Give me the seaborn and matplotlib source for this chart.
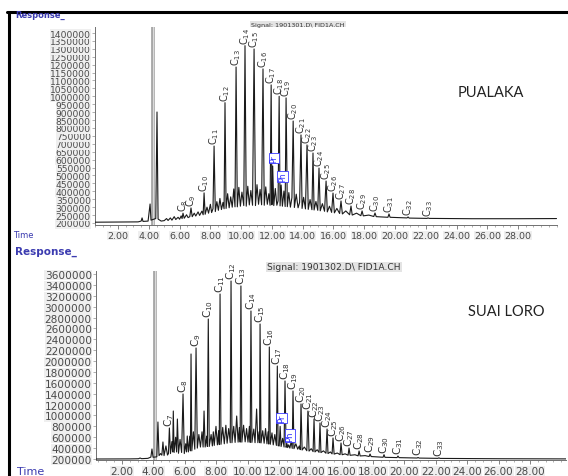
import numpy as np
import pandas as pd
import matplotlib
matplotlib.use("Agg")
import matplotlib.pyplot as plt
from matplotlib.lines import Line2D
import seaborn as sns

# ---- PUALAKA (upper chromatogram) ----
top_alk_n = [8, 9, 10, 11, 12, 13, 14, 15, 16, 17, 18, 19, 20, 21, 22, 23, 24, 25,
             26, 27, 28, 29, 30, 31, 32, 33]
top_alk_t = [6.22, 6.74, 7.59, 8.24, 8.95, 9.67, 10.25, 10.84, 11.42, 11.95, 12.47,
             12.92, 13.38, 13.89, 14.28, 14.67, 15.06, 15.52, 15.97, 16.49, 17.14,
             17.86, 18.70, 19.61, 20.85, 22.15]
top_alk_h = [262000, 295000, 390000, 686000, 960000, 1185000, 1320000, 1299000,
             1173000, 1072000, 1000000, 990000, 844000, 756000, 693000, 642000,
             547000, 465000, 389000, 339000, 307000, 276000, 263000, 257000,
             238000, 232000]
top_bio_n = ["Pr", "Ph"]
top_bio_t = [12.05, 12.60]
top_bio_h = [560000, 440000]
top_solvent_t = 4.24
top_solvent_h = 1600000
top_noise_t = [0.50, 3.30, 3.50, 3.56, 3.62, 3.95, 4.08, 4.14, 4.45, 4.53, 4.60, 4.80,
               5.00, 5.15, 5.25, 5.40, 5.50, 5.65, 5.75, 5.90, 6.00, 6.10, 6.16, 6.30,
               6.45, 6.55, 6.66, 6.82, 6.95, 7.05, 7.20, 7.30, 7.45, 7.53, 7.66, 7.78,
               7.88, 8.00, 8.08, 8.17, 8.32, 8.42, 8.52, 8.62, 8.72, 8.82, 8.89, 9.02,
               9.12, 9.22, 9.32, 9.42, 9.52, 9.60, 9.75, 9.85, 9.95, 10.05, 10.17, 10.33,
               10.43, 10.53, 10.63, 10.74, 10.93, 11.03, 11.13, 11.23, 11.33, 11.50,
               11.60, 11.70, 11.80, 11.88, 12.00, 12.12, 12.22, 12.32, 12.40, 12.53,
               12.68, 12.78, 12.86, 13.00, 13.10, 13.20, 13.30, 13.46, 13.58, 13.70,
               13.80, 13.96, 14.06, 14.18, 14.36, 14.48, 14.60, 14.74, 14.86, 14.98,
               15.14, 15.28, 15.42, 15.60, 15.74, 15.88, 16.06, 16.22, 16.40, 16.58,
               16.80, 17.05, 17.22, 17.50, 17.78, 17.94, 18.30, 18.62, 18.78, 19.20,
               19.54, 19.68, 20.20, 20.78, 20.92, 22.08, 22.22, 25.00, 28.00, 30.50]
top_noise_v = [205000, 207000, 212000, 232000, 210000, 212000, 320000, 218000, 228000,
               901000, 225000, 212000, 215000, 228000, 216000, 232000, 218000, 240000,
               222000, 236000, 224000, 245000, 228000, 230000, 252000, 234000, 240000,
               240000, 262000, 244000, 270000, 248000, 275000, 252000, 255000, 300000,
               262000, 318000, 266000, 290000, 272000, 335000, 280000, 355000, 285000,
               330000, 290000, 292000, 385000, 296000, 365000, 300000, 415000, 302000,
               302000, 425000, 306000, 395000, 310000, 306000, 432000, 314000, 405000,
               312000, 310000, 442000, 318000, 412000, 315000, 312000, 428000, 318000,
               385000, 312000, 315000, 310000, 418000, 312000, 340000, 308000, 306000,
               402000, 304000, 303000, 392000, 300000, 360000, 298000, 382000, 296000,
               330000, 292000, 362000, 289000, 286000, 348000, 284000, 282000, 336000,
               280000, 277000, 322000, 274000, 270000, 306000, 267000, 264000, 292000,
               260000, 257000, 276000, 252000, 250000, 262000, 246000, 245000, 250000,
               241000, 240000, 238000, 236000, 236000, 234000, 232000, 231000, 229000,
               229000, 227000, 227000, 228000]
top_yticks = list(range(200000, 1400001, 50000))

# ---- SUAI LORO (lower chromatogram) ----
bot_alk_n = [7, 8, 9, 10, 11, 12, 13, 14, 15, 16, 17, 18, 19, 20, 21, 22, 23, 24,
             25, 26, 27, 28, 29, 30, 31, 32, 33]
bot_alk_t = [5.02, 5.89, 6.72, 7.50, 8.25, 8.95, 9.58, 10.22, 10.80, 11.39, 11.90,
             12.39, 12.90, 13.41, 13.85, 14.24, 14.62, 15.07, 15.45, 15.96, 16.47,
             17.11, 17.81, 18.70, 19.59, 20.87, 22.20]
bot_alk_h = [770000, 1395000, 2240000, 2773000, 3232000, 3471000, 3380000, 2920000,
             2681000, 2258000, 1909000, 1634000, 1450000, 1211000, 1082000, 935000,
             862000, 751000, 586000, 494000, 402000, 347000, 292000, 280000, 255000,
             228000, 222000]
bot_bio_n = ["Pr", "Ph"]
bot_bio_t = [12.08, 12.62]
bot_bio_h = [800000, 460000]
bot_solvent_t = 4.13
bot_solvent_h = 4000000
bot_noise_t = [0.34, 2.50, 3.05, 3.15, 3.25, 3.65, 3.84, 3.91, 3.98, 4.22, 4.29, 4.36,
               4.46, 4.54, 4.61, 4.68, 4.80, 4.90, 4.96, 5.09, 5.18, 5.23, 5.27, 5.32,
               5.42, 5.48, 5.53, 5.60, 5.70, 5.80, 5.97, 6.06, 6.11, 6.16, 6.23, 6.32,
               6.36, 6.40, 6.45, 6.55, 6.64, 6.80, 6.90, 7.00, 7.10, 7.17, 7.23, 7.30,
               7.40, 7.44, 7.56, 7.68, 7.76, 7.82, 7.88, 7.99, 8.08, 8.16, 8.20, 8.31,
               8.42, 8.52, 8.62, 8.70, 8.80, 8.90, 9.01, 9.12, 9.21, 9.31, 9.40, 9.48,
               9.53, 9.64, 9.75, 9.85, 9.94, 10.03, 10.12, 10.17, 10.28, 10.40, 10.48,
               10.58, 10.66, 10.74, 10.77, 10.86, 10.97, 11.06, 11.15, 11.24, 11.31,
               11.35, 11.45, 11.56, 11.64, 11.74, 11.84, 11.95, 12.02, 12.14, 12.24,
               12.33, 12.46, 12.52, 12.56, 12.70, 12.78, 12.85, 12.96, 13.08, 13.20,
               13.30, 13.36, 13.48, 13.62, 13.78, 13.92, 14.06, 14.18, 14.30, 14.44,
               14.56, 14.68, 14.84, 15.00, 15.13, 15.28, 15.39, 15.52, 15.72, 15.90,
               16.03, 16.22, 16.41, 16.54, 16.85, 17.05, 17.18, 17.50, 17.75, 17.88,
               18.30, 18.64, 18.76, 19.53, 19.66, 20.81, 20.94, 22.14, 22.27, 26.00,
               30.30]
bot_noise_v = [200000, 202000, 205000, 218000, 206000, 212000, 235000, 384000, 232000,
               240000, 880000, 262000, 300000, 270000, 513000, 262000, 440000, 272000,
               300000, 300000, 520000, 330000, 1082000, 320000, 600000, 330000, 935000,
               305000, 560000, 320000, 300000, 480000, 330000, 623000, 330000, 620000,
               350000, 2130000, 350000, 700000, 380000, 400000, 650000, 420000, 700000,
               420000, 1082000, 420000, 620000, 430000, 430000, 650000, 440000, 700000,
               450000, 800000, 460000, 720000, 465000, 470000, 780000, 480000, 820000,
               490000, 760000, 500000, 500000, 800000, 505000, 990000, 510000, 780000,
               510000, 510000, 820000, 515000, 760000, 510000, 800000, 505000, 505000,
               750000, 500000, 1119000, 500000, 700000, 500000, 495000, 720000, 490000,
               760000, 480000, 700000, 475000, 470000, 680000, 460000, 650000, 450000,
               445000, 440000, 430000, 580000, 420000, 415000, 480000, 410000, 400000,
               520000, 395000, 390000, 480000, 380000, 440000, 372000, 365000, 420000,
               352000, 345000, 390000, 336000, 330000, 370000, 322000, 318000, 350000,
               306000, 300000, 330000, 294000, 290000, 310000, 280000, 278000, 295000,
               270000, 268000, 278000, 258000, 256000, 262000, 246000, 245000, 238000,
               232000, 231000, 226000, 225000, 218000, 217000, 212000, 211000, 205000,
               202000]
bot_yticks = list(range(200000, 3600001, 200000))

xtick_vals = list(range(2, 29, 2))

sns.set_theme(style="white")
plt.rcParams["font.family"] = ["DejaVu Sans"]

fig = plt.figure(figsize=(5.68, 4.77), dpi=100)
W, H = 568, 477


def px_axes(l, t, r, b):
    return fig.add_axes([l / W, 1 - b / H, (r - l) / W, (b - t) / H])


def panel(ax, noise_t, noise_v, alk_n, alk_t, alk_h, bio_n, bio_t, bio_h,
          solv_t, solv_h, yticks, xlim, ylim, fs):
    df = pd.DataFrame({"t": list(noise_t) + list(alk_t) + list(bio_t),
                       "v": list(noise_v) + list(alk_h) + list(bio_h)})
    df = df.sort_values("t")
    # solvent peak (grey band)
    ax.vlines(solv_t, ylim[0], solv_h, color="#9c9c9c", lw=2.6, zorder=2)
    ax.vlines(solv_t, ylim[0], solv_h, color="#dadada", lw=1.0, zorder=2)
    sns.lineplot(data=df, x="t", y="v", ax=ax, estimator=None, sort=True,
                 color="#1a1a1a", linewidth=0.8, zorder=3)
    for n, t, h in zip(alk_n, alk_t, alk_h):
        ax.annotate(f"C$_{{{n}}}$", (t, h), xytext=(0, 1.5), textcoords="offset points",
                    rotation=90, ha="center", va="bottom", fontsize=fs, color="#333333")
    for n, t, h in zip(bio_n, bio_t, bio_h):
        ax.annotate(n, (t, h), xytext=(1, 3), textcoords="offset points",
                    rotation=90, ha="center", va="bottom", fontsize=fs - 1.5,
                    color="#2a2aff",
                    bbox=dict(boxstyle="square,pad=0.1", fc="white", ec="#3a3aff", lw=0.6))
    ax.set_xlim(*xlim)
    ax.set_ylim(*ylim)
    ax.set_xlabel("")
    ax.set_ylabel("")
    ax.set_yticks(yticks)
    ax.set_yticklabels([str(v) for v in yticks])
    ax.set_xticks(xtick_vals)
    ax.set_xticklabels([f"{v:.2f}" for v in xtick_vals])
    ax.set_xticks(np.arange(0.5, xlim[1], 0.5), minor=True)
    sns.despine(ax=ax)
    for s in ("left", "bottom"):
        ax.spines[s].set_color("#707070")
        ax.spines[s].set_linewidth(0.7)
    ax.tick_params(axis="x", which="major", direction="out", length=3, width=0.6,
                   color="#707070", pad=1.5, bottom=True)
    ax.tick_params(axis="x", which="minor", direction="out", length=1.5, width=0.5,
                   color="#909090", bottom=True)
    ax.tick_params(axis="y", which="major", direction="out", length=2, width=0.5,
                   color="#909090", pad=1, left=True)
    for lbl in ax.get_yticklabels() + ax.get_xticklabels():
        lbl.set_color("#4a4a4a")
        lbl.set_bbox(dict(fc="#efefef", ec="none", pad=0.2))


ax1 = px_axes(95, 28, 557, 226)
panel(ax1, top_noise_t, top_noise_v, top_alk_n, top_alk_t, top_alk_h,
      top_bio_n, top_bio_t, top_bio_h, top_solvent_t, top_solvent_h,
      top_yticks, (0.505, 30.53), (187300, 1437900), 7)
ax1.tick_params(axis="y", labelsize=6.6)
ax1.tick_params(axis="x", labelsize=6.8)

ax2 = px_axes(96, 272, 566, 461)
panel(ax2, bot_noise_t, bot_noise_v, bot_alk_n, bot_alk_t, bot_alk_h,
      bot_bio_n, bot_bio_t, bot_bio_h, bot_solvent_t, bot_solvent_h,
      bot_yticks, (0.343, 30.30), (181700, 3655100), 7.5)
ax2.tick_params(axis="y", labelsize=7.6)
ax2.tick_params(axis="x", labelsize=7.5)

# header / annotations
blue = "#3b3bb0"
fig.text(15 / W, 1 - 15 / H, "Response_", fontsize=6, color=blue, va="center", weight="bold")
fig.text(13 / W, 1 - 236 / H, "Time", fontsize=6, color=blue, va="center")
fig.text(15 / W, 1 - 252 / H, "Response_", fontsize=7.5, color=blue, va="center", weight="bold")
fig.text(17 / W, 1 - 472 / H, "Time", fontsize=8, color=blue, va="center")
fig.text(298 / W, 1 - 25 / H, "Signal: 1901301.D\\ FID1A.CH", fontsize=4.6, color="#333333",
         ha="center", va="center", bbox=dict(fc="#e4e4e4", ec="none", pad=0.6))
fig.text(334 / W, 1 - 268 / H, "Signal: 1901302.D\\ FID1A.CH", fontsize=6.6, color="#333333",
         ha="center", va="center", bbox=dict(fc="#e4e4e4", ec="none", pad=0.6))
fig.text(491 / W, 1 - 93 / H, "PUALAKA", fontsize=10.5, family="Lato", color="#222222",
         ha="center", va="center")
fig.text(506 / W, 1 - 312 / H, "SUAI LORO", fontsize=10.5, family="Lato", color="#222222",
         ha="center", va="center")

# black frame (top and left)
fig.add_artist(Line2D([7 / W, 1], [1 - 12.5 / H] * 2, color="black", lw=2.2))
fig.add_artist(Line2D([8.5 / W] * 2, [0, 1 - 12.5 / H], color="black", lw=2.2))

fig.savefig("out.png", dpi=100)
